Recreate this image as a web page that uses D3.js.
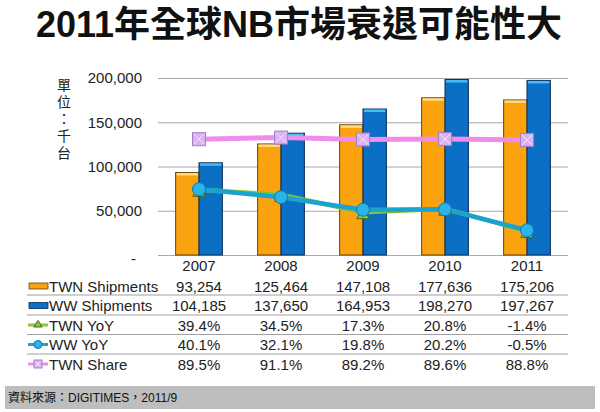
<!DOCTYPE html>
<html><head><meta charset="utf-8">
<script src="https://cdn.jsdelivr.net/npm/d3@7"></script>
<style>
body{margin:0;background:#fff;}
svg{display:block;font-family:"Liberation Sans",Arial,"Noto Sans CJK TC",sans-serif;}
</style></head>
<body><svg id="c" width="600" height="412"></svg>
<script>
const years = ["2007","2008","2009","2010","2011"];
const twnShip = [93254,125464,147108,177636,175206];
const wwShip = [104185,137650,164953,198270,197267];
const twnYoY = [39.4,34.5,17.3,20.8,-1.4];
const wwYoY = [40.1,32.1,19.8,20.2,-0.5];
const twnShare = [89.5,91.1,89.2,89.6,88.8];
const yTicks = [0,50000,100000,150000,200000];
const seriesNames = ["TWN Shipments","WW Shipments","TWN YoY","WW YoY","TWN Share"];

const svg = d3.select("#c");
const x = d3.scaleBand().domain(years).range([158,568]).paddingInner(0.43).paddingOuter(0.215);
const xs = d3.scaleBand().domain(["twn","ww"]).range([0,x.bandwidth()]);
const y = d3.scaleLinear().domain([0,200000]).range([255,78]);
const y2 = d3.scaleLinear().domain([-25,150]).range([255,78]);
const cx = d => x(d)+x.bandwidth()/2;

// title
svg.append("text").attr("x",299).attr("y",37).attr("text-anchor","middle")
  .attr("font-size",36).attr("font-weight","bold").attr("fill","#111")
  .text("2011年全球NB市場衰退可能性大");

// y title vertical
svg.append("text").attr("x",64).attr("y",78)
  .attr("font-size",14).attr("fill","#222")
  .attr("font-family","'Noto Sans CJK TC',sans-serif")
  .style("writing-mode","vertical-rl").style("text-orientation","upright")
  .attr("letter-spacing",3)
  .text("單位：千台");

// grid + axis
const ax = d3.axisLeft(y).tickValues(yTicks).tickSize(-410).tickPadding(16)
  .tickFormat(d=> d===0 ? "-" : d3.format(",")(d));
const g = svg.append("g").attr("transform","translate(158,0)").call(ax);
g.select(".domain").remove();
g.selectAll(".tick line").attr("stroke","#a8a8a8").attr("stroke-width",1);
g.selectAll(".tick text").attr("font-size",15).attr("fill","#222").attr("font-family","'Liberation Sans',Arial,sans-serif");
g.selectAll(".tick text").filter(d=>d===0).attr("dx",-6).attr("dy","0.55em");

// bars
const barData = [];
years.forEach((yr,i)=>{
  barData.push({yr,k:"twn",v:twnShip[i]});
  barData.push({yr,k:"ww",v:wwShip[i]});
});
const fills = {twn:"#FBA30F", ww:"#0B6FC6"};
const strokes = {twn:"#6b4400", ww:"#0b2b55"};
const tops = {twn:"#FFD98A", ww:"#45BDF2"};
const bars = svg.append("g");
bars.selectAll("rect.bar").data(barData).join("rect").attr("class","bar")
  .attr("x",d=>x(d.yr)+xs(d.k)).attr("width",xs.bandwidth())
  .attr("y",d=>y(d.v)).attr("height",d=>y(0)-y(d.v))
  .attr("fill",d=>fills[d.k]).attr("stroke",d=>strokes[d.k]).attr("stroke-width",1);
bars.selectAll("rect.top").data(barData).join("rect").attr("class","top")
  .attr("x",d=>x(d.yr)+xs(d.k)+1).attr("width",xs.bandwidth()-2)
  .attr("y",d=>y(d.v)+0.5).attr("height",2.5)
  .attr("fill",d=>tops[d.k]);

// lines
const line = d3.line().x((d,i)=>cx(years[i])).y(d=>y2(d));
svg.append("path").datum(twnShare).attr("d",line).attr("fill","none")
  .attr("stroke","#F08CEB").attr("stroke-width",5);
svg.append("path").datum(twnYoY).attr("d",line).attr("fill","none")
  .attr("stroke","#7FC241").attr("stroke-width",4.5);
svg.append("path").datum(wwYoY).attr("d",line).attr("fill","none")
  .attr("stroke","#1BA3CF").attr("stroke-width",4.5);

function square(gr,px,py,s){
  gr.append("rect").attr("x",px-s/2).attr("y",py-s/2).attr("width",s).attr("height",s)
    .attr("fill","#D9B2F2").attr("stroke","#A77CC8").attr("stroke-width",1);
  gr.append("path").attr("d",`M${px-s/2+1.5},${py-s/2+1.5}L${px+s/2-1.5},${py+s/2-1.5}M${px+s/2-1.5},${py-s/2+1.5}L${px-s/2+1.5},${py+s/2-1.5}`)
    .attr("stroke","#F4E4FF").attr("stroke-width",1);
}
function tri(gr,px,py,s){
  gr.append("path").attr("d",`M${px},${py-s*0.6}L${px+s*0.7},${py+s*0.5}L${px-s*0.7},${py+s*0.5}Z`)
    .attr("fill","#8DC63F").attr("stroke","#3f6b18").attr("stroke-width",1);
}
function circ(gr,px,py,r){
  gr.append("circle").attr("cx",px).attr("cy",py).attr("r",r)
    .attr("fill","#2BB4EA").attr("stroke","#0C78A8").attr("stroke-width",1);
}
const mk = svg.append("g");
twnShare.forEach((v,i)=>square(mk,cx(years[i]),y2(v),13));
twnYoY.forEach((v,i)=>tri(mk,cx(years[i]),y2(v)+2,9));
wwYoY.forEach((v,i)=>circ(mk,cx(years[i]),y2(v),6.5));

// table
const tbl = svg.append("g").attr("font-size",15).attr("fill","#222");
years.forEach(yr=>{
  tbl.append("text").attr("x",cx(yr)).attr("y",271).attr("text-anchor","middle").text(yr);
});
const rowY = [286,305.5,325,344.5,364];
const fmtN = d3.format(",");
const fmtP = v => v.toFixed(1)+"%";
const rows = [twnShip.map(fmtN), wwShip.map(fmtN), twnYoY.map(fmtP), wwYoY.map(fmtP), twnShare.map(fmtP)];
rows.forEach((r,ri)=>{
  r.forEach((t,i)=>{
    tbl.append("text").attr("x",cx(years[i])).attr("y",rowY[ri]+5.5).attr("text-anchor","middle").text(t);
  });
  tbl.append("text").attr("x",49).attr("y",rowY[ri]+5.5).text(seriesNames[ri]);
});
[295,315,334.5,354].forEach(ly=>{
  svg.append("line").attr("x1",27).attr("x2",568).attr("y1",ly).attr("y2",ly)
    .attr("stroke","#a0a0a0").attr("stroke-width",1);
});
// legend keys
const lk = svg.append("g");
lk.append("rect").attr("x",29).attr("y",rowY[0]-3).attr("width",19).attr("height",6)
  .attr("fill",fills.twn).attr("stroke",strokes.twn).attr("stroke-width",0.8);
lk.append("rect").attr("x",29).attr("y",rowY[1]-3).attr("width",19).attr("height",6)
  .attr("fill",fills.ww).attr("stroke",strokes.ww).attr("stroke-width",0.8);
lk.append("line").attr("x1",28).attr("x2",48).attr("y1",rowY[2]).attr("y2",rowY[2]).attr("stroke","#8DC63F").attr("stroke-width",3);
tri(lk,38,rowY[2]-1,6);
lk.append("line").attr("x1",28).attr("x2",48).attr("y1",rowY[3]).attr("y2",rowY[3]).attr("stroke","#1BA3CF").attr("stroke-width",3);
circ(lk,38,rowY[3],4);
lk.append("line").attr("x1",28).attr("x2",48).attr("y1",rowY[4]).attr("y2",rowY[4]).attr("stroke","#F08CEB").attr("stroke-width",3);
square(lk,38,rowY[4],8);

// footer
svg.append("rect").attr("x",5).attr("y",386).attr("width",590).attr("height",23).attr("fill","#BEBEBE");
svg.append("text").attr("x",8).attr("y",402).attr("font-size",12).attr("fill","#111")
  .text("資料來源：DIGITIMES，2011/9");
</script></body></html>
